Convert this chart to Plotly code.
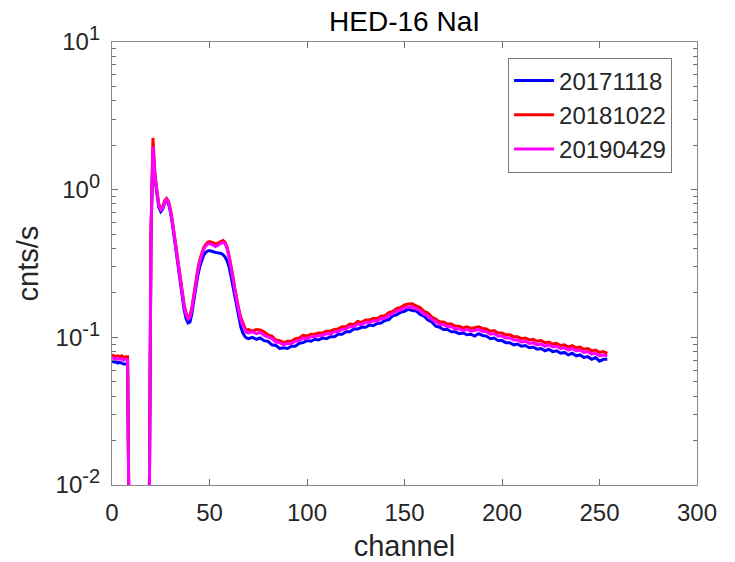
import plotly.graph_objects as go

channels = list(range(0, 70)) + list(range(70, 256, 2))

series_names = ["20171118", "20181022", "20190429"]
series_colors = ["#0000ff", "#ff0000", "#ff00ff"]

low = [0.002] * 10

blue = ([0.069, 0.068, 0.068, 0.067, 0.068, 0.067, 0.066, 0.066, 0.066] + low +
        [0.004, 0.48, 1.85, 1.2, 0.95, 0.76, 0.71, 0.74, 0.81, 0.85, 0.80,
         0.70, 0.58, 0.46, 0.36, 0.285, 0.228, 0.185, 0.153, 0.134, 0.125,
         0.127, 0.145, 0.178, 0.22, 0.262, 0.30, 0.335, 0.36, 0.375, 0.384,
         0.387, 0.385, 0.38, 0.376, 0.375, 0.374, 0.37, 0.362, 0.35, 0.33,
         0.30, 0.26, 0.22, 0.185, 0.155, 0.135, 0.118, 0.108, 0.102, 0.099] +
        [0.098, 0.100, 0.097, 0.099, 0.095, 0.094, 0.089, 0.088, 0.084, 0.085,
         0.084, 0.087, 0.087, 0.091, 0.092, 0.095, 0.094, 0.097, 0.096, 0.099,
         0.098, 0.101, 0.101, 0.105, 0.105, 0.109, 0.109, 0.114, 0.114, 0.117,
         0.117, 0.121, 0.120, 0.124, 0.125, 0.130, 0.132, 0.140, 0.142, 0.148,
         0.150, 0.155, 0.152, 0.151, 0.143, 0.139, 0.131, 0.127, 0.119, 0.117,
         0.113, 0.113, 0.109, 0.109, 0.106, 0.107, 0.104, 0.105, 0.102, 0.106,
         0.103, 0.102, 0.098, 0.099, 0.095, 0.095, 0.092, 0.092, 0.089, 0.090,
         0.087, 0.088, 0.085, 0.086, 0.083, 0.084, 0.081, 0.083, 0.080, 0.081,
         0.078, 0.079, 0.076, 0.078, 0.075, 0.076, 0.073, 0.074, 0.071, 0.073,
         0.069, 0.071, 0.071])

red = ([0.076, 0.075, 0.074, 0.075, 0.074, 0.075, 0.073, 0.074, 0.074] + low +
       [0.004, 0.55, 2.24, 1.30, 1.0, 0.80, 0.74, 0.77, 0.84, 0.87, 0.83,
        0.73, 0.61, 0.49, 0.39, 0.305, 0.245, 0.20, 0.166, 0.146, 0.137,
        0.140, 0.16, 0.195, 0.24, 0.29, 0.335, 0.375, 0.405, 0.425, 0.44,
        0.445, 0.443, 0.436, 0.43, 0.432, 0.44, 0.448, 0.452, 0.44, 0.41,
        0.36, 0.31, 0.26, 0.215, 0.18, 0.155, 0.137, 0.125, 0.117, 0.112] +
       [0.113, 0.110, 0.113, 0.112, 0.109, 0.104, 0.102, 0.096, 0.095, 0.092,
        0.094, 0.094, 0.098, 0.099, 0.103, 0.102, 0.105, 0.105, 0.107, 0.107,
        0.110, 0.110, 0.113, 0.114, 0.118, 0.118, 0.123, 0.122, 0.128, 0.126,
        0.131, 0.131, 0.134, 0.134, 0.139, 0.140, 0.147, 0.150, 0.157, 0.159,
        0.166, 0.168, 0.169, 0.163, 0.159, 0.150, 0.146, 0.137, 0.133, 0.127,
        0.127, 0.123, 0.123, 0.119, 0.119, 0.116, 0.118, 0.115, 0.116, 0.118,
        0.115, 0.114, 0.110, 0.111, 0.107, 0.107, 0.104, 0.104, 0.101, 0.101,
        0.098, 0.099, 0.096, 0.097, 0.094, 0.095, 0.092, 0.093, 0.090, 0.091,
        0.088, 0.089, 0.086, 0.088, 0.085, 0.086, 0.083, 0.084, 0.081, 0.082,
        0.079, 0.080, 0.078])

magenta = ([0.073, 0.072, 0.072, 0.071, 0.072, 0.071, 0.070, 0.071, 0.070] + low +
           [0.004, 0.5, 1.96, 1.25, 0.98, 0.78, 0.73, 0.75, 0.82, 0.86, 0.82,
            0.72, 0.60, 0.48, 0.38, 0.30, 0.24, 0.195, 0.162, 0.142, 0.133,
            0.136, 0.155, 0.19, 0.235, 0.28, 0.325, 0.365, 0.395, 0.415, 0.428,
            0.432, 0.428, 0.42, 0.412, 0.416, 0.425, 0.435, 0.44, 0.43, 0.40,
            0.35, 0.30, 0.25, 0.21, 0.175, 0.15, 0.132, 0.12, 0.113, 0.108] +
           [0.107, 0.109, 0.106, 0.108, 0.103, 0.101, 0.098, 0.093, 0.092, 0.089,
            0.091, 0.091, 0.094, 0.095, 0.099, 0.098, 0.101, 0.101, 0.103, 0.103,
            0.106, 0.105, 0.109, 0.109, 0.113, 0.114, 0.118, 0.118, 0.123, 0.122,
            0.126, 0.126, 0.129, 0.129, 0.134, 0.135, 0.141, 0.145, 0.151, 0.153,
            0.159, 0.160, 0.161, 0.156, 0.152, 0.144, 0.140, 0.132, 0.128, 0.122,
            0.122, 0.118, 0.118, 0.114, 0.114, 0.111, 0.113, 0.110, 0.111, 0.113,
            0.110, 0.109, 0.105, 0.106, 0.102, 0.102, 0.099, 0.099, 0.096, 0.096,
            0.093, 0.094, 0.091, 0.092, 0.089, 0.090, 0.087, 0.089, 0.086, 0.087,
            0.084, 0.085, 0.082, 0.084, 0.081, 0.082, 0.079, 0.080, 0.077, 0.078,
            0.075, 0.076, 0.075])

series_values = [blue, red, magenta]

x_ticks = [0, 50, 100, 150, 200, 250, 300]
y_ticks = [0.01, 0.1, 1, 10]
y_exponents = ["-2", "-1", "0", "1"]
y_minor = [m * 10 ** e for e in (-2, -1, 0) for m in range(2, 10)]

FONT = "Liberation Sans, Arial, sans-serif"
AX = "#6e6e6e"
TXT = "#262626"

y_ticktext = ["10<sup><span style='font-size:20px'>%s</span></sup>" % e for e in y_exponents]

fig = go.Figure()
for i, (name, col, vals) in enumerate(zip(series_names, series_colors, series_values)):
    fig.add_trace(go.Scatter(
        x=channels[:len(vals)], y=vals, mode="lines", name=name,
        line=dict(color=col, width=3), legendgroup=f"g{i}"))

# helper trace so the overlaid major-tick axis is drawn
fig.add_trace(go.Scatter(x=[None], y=[None], yaxis="y2", showlegend=False,
                         hoverinfo="skip"))

fig.update_layout(
    width=735, height=562,
    margin=dict(l=112, r=38, t=42, b=77, autoexpand=False),
    paper_bgcolor="white", plot_bgcolor="white",
    font=dict(family=FONT, color=TXT, size=24),
    title=dict(text="HED-16 NaI", x=0.5504, xanchor="center", y=0.963, yanchor="middle",
               font=dict(size=28, color="#000000")),
    showlegend=True,
    legend=dict(x=0.677, y=0.965, xanchor="left", yanchor="top",
                bgcolor="white", bordercolor="#7a7a7a", borderwidth=1,
                font=dict(size=24, color=TXT), tracegroupgap=0,
                itemwidth=40),
    yaxis2=dict(type="log", range=[-2, 1], overlaying="y", side="left", anchor="x",
                tickvals=y_ticks, ticktext=[""] * len(y_ticks), automargin=False,
                ticks="inside", ticklen=6, tickwidth=1, tickcolor=AX, mirror="ticks",
                showline=False, showgrid=False, zeroline=False),
)

fig.update_xaxes(
    range=[0, 300], tickvals=x_ticks, ticks="inside", ticklen=6, tickwidth=1, tickcolor=AX,
    showline=True, linecolor="#8a8a8a", linewidth=1.2, mirror="ticks", showgrid=False,
    zeroline=False, tickfont=dict(size=24), ticklabelstandoff=6, automargin=False,
    title=dict(text="channel", font=dict(size=29), standoff=12),
)
fig.update_layout(yaxis=dict(
    type="log", range=[-2, 1], tickvals=y_ticks + y_minor,
    ticktext=y_ticktext + [""] * len(y_minor), automargin=False,
    ticks="inside", ticklen=4, tickwidth=1, tickcolor=AX, ticklabelstandoff=6,
    showline=True, linecolor="#8a8a8a", linewidth=1.2, mirror="ticks", showgrid=False,
    zeroline=False, tickfont=dict(size=24),
    title=dict(text="cnts/s", font=dict(size=29), standoff=8),
))

fig.write_html("out.html")
